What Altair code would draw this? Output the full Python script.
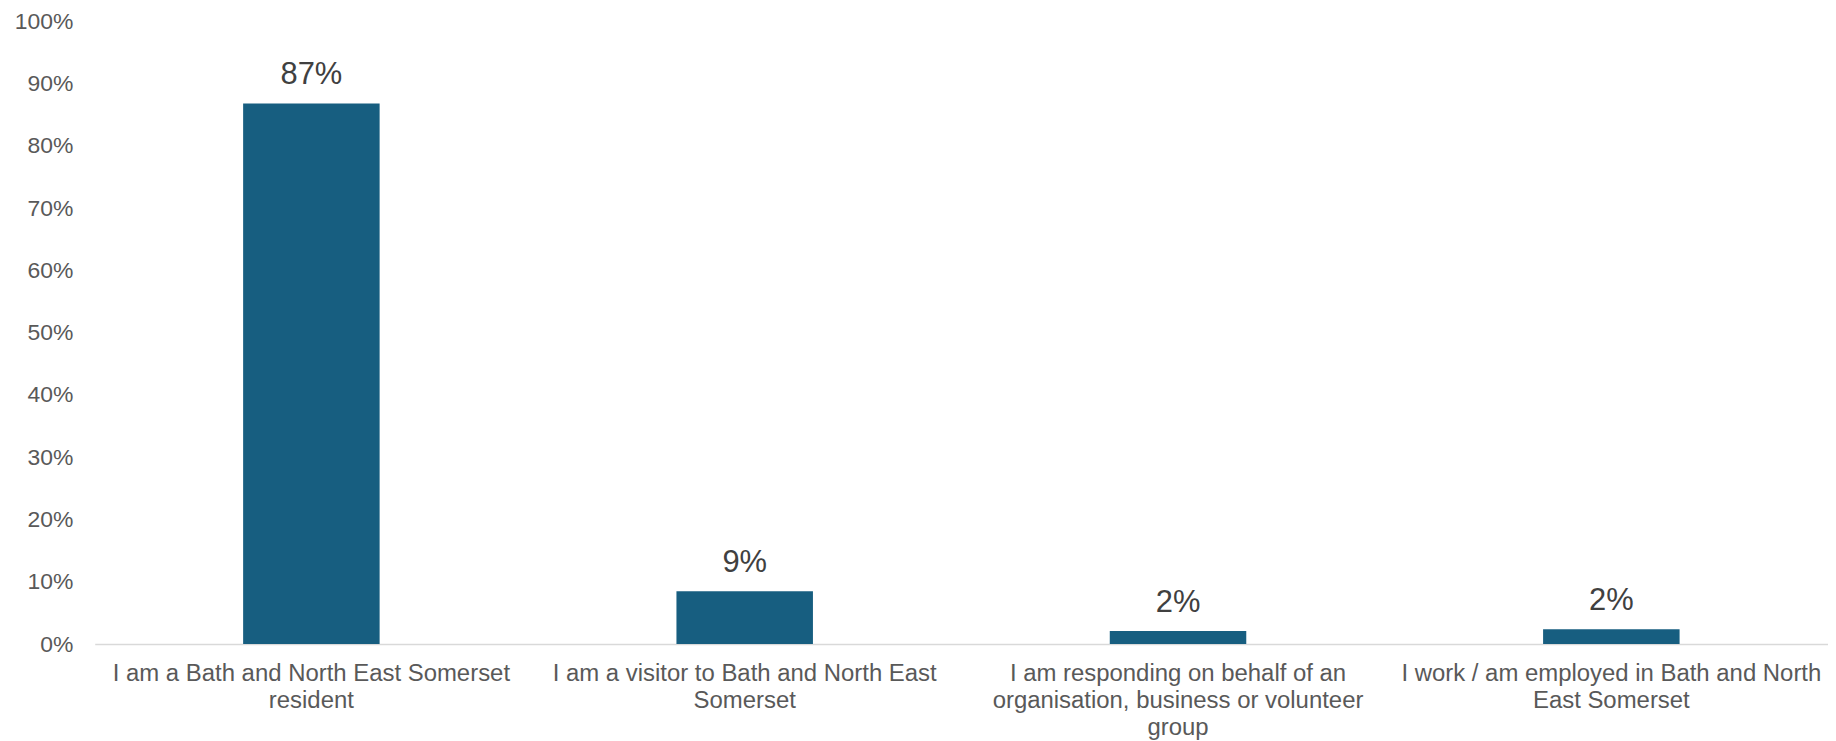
import altair as alt
import pandas as pd

categories = [
    "I am a Bath and North East Somerset\nresident",
    "I am a visitor to Bath and North East\nSomerset",
    "I am responding on behalf of an\norganisation, business or volunteer\ngroup",
    "I work / am employed in Bath and North\nEast Somerset",
]
values = [0.868, 0.085, 0.021, 0.024]
value_labels = ["87%", "9%", "2%", "2%"]

df = pd.DataFrame({"category": categories, "value": values, "label": value_labels})

FONT = "Liberation Sans"

x = alt.X(
    "category:N",
    sort=categories,
    title=None,
    scale=alt.Scale(paddingInner=0.685, paddingOuter=0.3425),
    axis=alt.Axis(
        labelAngle=0,
        labelExpr="split(datum.label, '\\n')",
        labelFont=FONT,
        labelFontSize=24,
        labelColor="#595959",
        labelLineHeight=27,
        labelPadding=18,
        labelLimit=600,
        labelOverlap=False,
        ticks=False,
        domain=True,
        domainColor="#D9D9D9",
        domainWidth=1.5,
        grid=False,
    ),
)

y = alt.Y(
    "value:Q",
    title=None,
    scale=alt.Scale(domain=[0, 1], nice=False),
    axis=alt.Axis(
        format=".0%",
        values=[i / 10 for i in range(11)],
        labelFont=FONT,
        labelFontSize=23,
        labelColor="#595959",
        labelPadding=22,
        ticks=False,
        domain=False,
        grid=False,
    ),
)

bars = alt.Chart(df).mark_bar(color="#175E80").encode(x=x, y=y)

text = alt.Chart(df).mark_text(
    font=FONT, fontSize=31, color="#404040", baseline="alphabetic", dy=-19
).encode(
    x=x,
    y=y,
    text="label:N",
)

chart = (
    alt.layer(bars, text)
    .properties(
        width=1739,
        height=625,
        background="white",
        autosize=alt.AutoSizeParams(type="none"),
        padding={"left": 87, "top": 12, "right": 0, "bottom": 96},
    )
    .configure_view(strokeWidth=0, stroke="transparent")
)

chart.save("out.html", embed_options={"renderer": "svg", "actions": False})
